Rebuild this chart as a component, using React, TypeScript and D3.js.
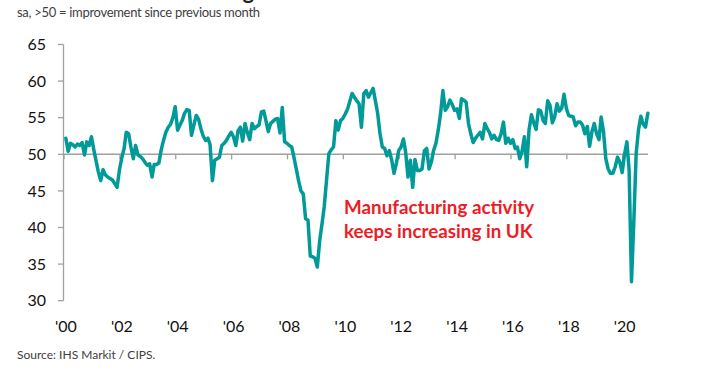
import React from "react";
import * as d3 from "d3";

// UK manufacturing PMI, monthly, seasonally adjusted (Jan 2000 – Nov 2020)
const pmi2000 = [52.2, 50.4, 51.5, 51.3, 51.0, 51.4, 51.2, 51.6, 49.9, 51.7, 51.2, 52.4];
const pmi2001 = [50.6, 49.0, 47.6, 46.4, 47.9, 47.2, 46.9, 46.7, 46.5, 46.0, 45.5, 47.8];
const pmi2002 = [49.5, 50.8, 53.0, 52.8, 51.0, 49.4, 51.2, 49.9, 49.7, 49.4, 48.9, 48.5];
const pmi2003 = [48.7, 46.9, 48.6, 48.6, 48.8, 50.6, 51.9, 53.0, 53.7, 54.1, 55.0, 56.5];
const pmi2004 = [53.3, 54.0, 54.6, 55.6, 56.1, 56.0, 52.6, 54.0, 55.3, 54.8, 53.5, 52.5];
const pmi2005 = [51.9, 52.2, 51.3, 46.4, 49.2, 49.4, 49.6, 51.2, 51.5, 51.9, 52.5, 53.0];
const pmi2006 = [52.4, 51.2, 53.2, 53.7, 51.8, 54.2, 53.0, 52.0, 54.2, 53.5, 53.8, 54.0];
const pmi2007 = [55.8, 55.9, 54.6, 53.1, 54.2, 54.5, 54.8, 54.9, 52.9, 56.4, 51.7, 51.5];
const pmi2008 = [51.2, 51.0, 49.6, 48.0, 46.4, 45.0, 44.6, 41.2, 41.0, 36.1, 36.0, 35.8];
const pmi2009 = [34.6, 38.2, 40.3, 42.8, 46.4, 50.1, 50.6, 51.0, 54.6, 53.3, 54.6, 54.9];
const pmi2010 = [55.5, 56.2, 57.2, 58.3, 57.8, 57.3, 56.9, 53.7, 58.3, 58.7, 57.8, 58.4];
const pmi2011 = [59.0, 57.2, 55.6, 52.8, 51.0, 50.8, 49.8, 50.5, 49.2, 47.4, 48.8, 50.5];
const pmi2012 = [51.0, 52.1, 50.3, 46.9, 49.2, 45.5, 49.3, 47.8, 47.8, 48.0, 50.5, 50.8];
const pmi2013 = [48.0, 49.0, 50.5, 51.5, 53.3, 55.6, 58.7, 56.0, 56.5, 57.4, 56.8, 56.0];
const pmi2014 = [56.2, 54.9, 57.6, 57.4, 57.1, 54.2, 52.8, 51.6, 52.2, 52.6, 53.0, 52.1];
const pmi2015 = [54.2, 53.5, 53.0, 52.1, 52.6, 52.0, 51.9, 52.8, 54.4, 51.5, 52.2, 51.5];
const pmi2016 = [52.0, 50.8, 51.0, 49.4, 50.4, 52.4, 48.3, 53.4, 55.4, 54.3, 53.4, 56.1];
const pmi2017 = [55.9, 54.6, 54.2, 57.3, 56.7, 54.3, 55.1, 56.9, 55.9, 56.3, 58.2, 56.3];
const pmi2018 = [55.3, 55.2, 55.1, 53.9, 54.4, 54.4, 54.0, 52.8, 53.8, 51.1, 53.1, 54.2];
const pmi2019 = [52.8, 52.0, 55.1, 53.1, 49.4, 48.0, 47.4, 47.4, 48.3, 49.6, 48.9, 47.5];
const pmi2020 = [50.0, 51.7, 47.8, 32.6, 40.7, 50.1, 53.3, 55.2, 54.1, 53.7, 55.6];

const yTicks = [30, 35, 40, 45, 50, 55, 60, 65];
const xTickYears = [2000, 2002, 2004, 2006, 2008, 2010, 2012, 2014, 2016, 2018, 2020];
const xTickLabels = ["'00", "'02", "'04", "'06", "'08", "'10", "'12", "'14", "'16", "'18", "'20"];

const titleText = "UK manufacturing";
const subtitleText = "sa, >50 = improvement since previous month";
const sourceText = "Source: IHS Markit / CIPS.";
const noteLines = ["Manufacturing activity", "keeps increasing in UK"];

const allValues = [
  ...pmi2000, ...pmi2001, ...pmi2002, ...pmi2003, ...pmi2004, ...pmi2005, ...pmi2006,
  ...pmi2007, ...pmi2008, ...pmi2009, ...pmi2010, ...pmi2011, ...pmi2012, ...pmi2013,
  ...pmi2014, ...pmi2015, ...pmi2016, ...pmi2017, ...pmi2018, ...pmi2019, ...pmi2020,
];
const series = allValues.map((v, i) => ({ date: new Date(2000, i, 25), value: v }));

const W = 726;
const H = 375;
const axisX = 63.5;
const lastX = 648;

const FONT = "Lato, 'Open Sans', sans-serif";
const TEAL = "#009A98";
const GREY = "#a0a0a0";

export default function App() {
  const x = d3.scaleTime().domain([new Date(2000, 0, 1), new Date(2020, 0, 1)]).range([64, 622.7]);
  const y = d3.scaleLinear().domain([30, 65]).range([300.7, 44.5]);
  const line = d3
    .line<{ date: Date; value: number }>()
    .x((d) => x(d.date))
    .y((d) => y(d.value));
  const y50 = y(50);

  return (
    <svg
      width={W}
      height={H}
      style={{ position: "absolute", left: 0, top: 0, background: "#fff" }}
      fontFamily={FONT}
    >
      <text x={254} y={-1} textAnchor="end" fontSize={22} fontWeight="bold" fill="#222">
        {titleText}
      </text>
      <text x={17} y={17} fontSize={13} letterSpacing={-0.3} fill="#404040">
        {subtitleText}
      </text>

      {/* y axis */}
      <line x1={axisX} x2={axisX} y1={y(65)} y2={y(30)} stroke={GREY} strokeWidth={1.3} />
      {yTicks.map((t) => (
        <g key={t}>
          <line x1={58} x2={axisX} y1={y(t)} y2={y(t)} stroke={GREY} strokeWidth={1.3} />
          <text x={46} y={y(t)} dy="0.36em" textAnchor="end" fontSize={16} fill="#111">
            {t}
          </text>
        </g>
      ))}

      {/* 50 baseline with year ticks */}
      <line x1={axisX} x2={lastX} y1={y50} y2={y50} stroke={GREY} strokeWidth={1.5} />
      {xTickYears.map((yr, i) => {
        const xp = x(new Date(yr, 0, 1));
        return (
          <g key={yr}>
            <line x1={xp} x2={xp} y1={y50} y2={y50 + 5} stroke={GREY} strokeWidth={1.3} />
            <text x={xp + 2} y={332} textAnchor="middle" fontSize={16} fill="#111">
              {xTickLabels[i]}
            </text>
          </g>
        );
      })}

      <path
        d={line(series) || ""}
        fill="none"
        stroke={TEAL}
        strokeWidth={3.5}
        strokeLinejoin="round"
        strokeLinecap="round"
      />

      {noteLines.map((s, i) => (
        <text key={s} x={344} y={214 + i * 23.5} fontSize={18.8} fontWeight="bold" fill="#EE1C25">
          {s}
        </text>
      ))}

      <text x={17} y={359} fontSize={12} fill="#404040">
        {sourceText}
      </text>
    </svg>
  );
}
